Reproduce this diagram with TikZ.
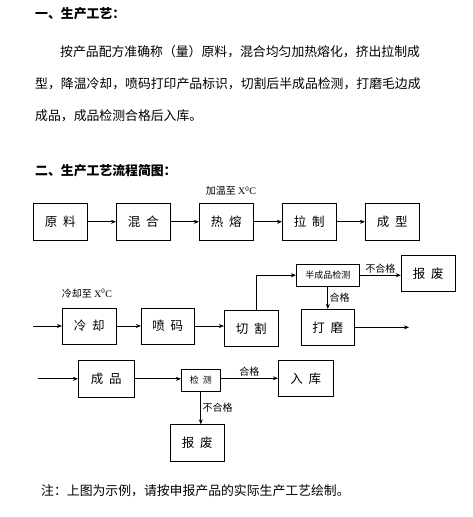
\documentclass[tikz,border=0pt]{standalone}
\usepackage{fontspec}
\newfontfamily\cjk{Noto Sans CJK SC}
\newfontfamily\timesf{Liberation Serif}
\usetikzlibrary{arrows.meta}

\begin{document}
\begin{tikzpicture}[x=1pt, y=-1pt, >={Stealth[length=5pt,width=4pt]},
    every node/.style={font=\cjk\fontsize{12.5}{15}\selectfont},
    box/.style={draw, line width=0.8pt, inner sep=0pt, minimum width=54pt, minimum height=37pt},
    smallbox/.style={draw, line width=0.8pt, inner sep=0pt, minimum height=22pt, font=\cjk\fontsize{9}{11}\selectfont},
    lbl/.style={font=\cjk\fontsize{10}{12}\selectfont, inner sep=1.5pt},
    txt/.style={anchor=west, inner sep=0pt, font=\cjk\fontsize{12.85}{15}\selectfont},
    flow/.style={->, line width=0.8pt}]
    \useasboundingbox (0,0) rectangle (473,517);

    % text above the chart
    \node[txt, font=\cjk\bfseries\fontsize{12.85}{15}\selectfont] (h1) at (35,14) {一、生产工艺：};
    \node[txt] (p1) at (60,52) {按产品配方准确称（量）原料，混合均匀加热熔化，挤出拉制成};
    \node[txt] (p2) at (35,84) {型，降温冷却，喷码打印产品标识，切割后半成品检测，打磨毛边成};
    \node[txt] (p3) at (35,116) {成品，成品检测合格后入库。};
    \node[txt, font=\cjk\bfseries\fontsize{12.85}{15}\selectfont] (h2) at (35,171) {二、生产工艺流程简图：};

    % first row
    \node[box] (yl) at (60.3,221.8) {原\hspace{0.45em}料};
    \node[box] (hh) at (143.3,221.8) {混\hspace{0.45em}合};
    \node[box] (rr) at (226.3,221.8) {热\hspace{0.45em}熔};
    \node[box] (lz) at (309.3,221.8) {拉\hspace{0.45em}制};
    \node[box] (cx) at (392.3,221.8) {成\hspace{0.45em}型};
    \node[lbl] (jw) at (231,191) {加温至 {\timesf X\textsuperscript{0}C}};

    \draw[flow] (yl) -- (hh);
    \draw[flow] (hh) -- (rr);
    \draw[flow] (rr) -- (lz);
    \draw[flow] (lz) -- (cx);

    % second row
    \node[box, minimum height=36pt] (lq) at (89.3,326) {冷\hspace{0.45em}却};
    \node[box, minimum width=53pt, minimum height=36pt] (pm) at (167.8,326) {喷\hspace{0.45em}码};
    \node[box, minimum height=36pt] (qg) at (251.3,328.3) {切\hspace{0.45em}割};
    \node[smallbox, minimum width=63pt] (bjc) at (327.8,275.2) {半成品检测};
    \node[box, minimum height=36pt] (bf1) at (428.2,273.3) {报\hspace{0.45em}废};
    \node[box, minimum width=53pt, minimum height=36pt] (dm) at (327.8,327.3) {打\hspace{0.45em}磨};
    \node[lbl] (lqz) at (87,293.3) {冷却至 {\timesf X\textsuperscript{0}C}};
    \coordinate (s2) at (33,326);
    \coordinate (e2) at (409,327.3);

    \draw[flow] (s2) -- (lq);
    \draw[flow] (lq) -- (pm);
    \draw[flow] (pm.east) -- (pm.east -| qg.west);
    \draw[flow] ([xshift=5pt]qg.north) |- (bjc.west);
    \draw[flow] (bjc.east) -- node[lbl, above] {不合格} (bjc.east -| bf1.west);
    \draw[flow] (bjc.south) -- node[lbl, right] {合格} (dm.north);
    \draw[flow] (dm) -- (e2);

    % third row
    \node[box, minimum width=56pt] (cp) at (106.3,378.8) {成\hspace{0.45em}品};
    \node[smallbox, minimum width=39pt] (jc) at (200.8,380.3) {检\hspace{0.45em}测};
    \node[box, minimum width=55pt, minimum height=36pt] (rk) at (305.8,378.3) {入\hspace{0.45em}库};
    \node[box, minimum height=36.6pt] (bf2) at (197.3,443) {报\hspace{0.45em}废};
    \coordinate (s3) at (37.7,378.8);

    \draw[flow] (s3) -- (cp);
    \draw[flow] (cp.east) -- (cp.east -| jc.west);
    \draw[flow] (rk.west -| jc.east) -- node[lbl, above] {合格} (rk.west);
    \draw[flow] (jc.south) -- node[lbl, right] {不合格} (jc.south |- bf2.north);

    % note
    \node[txt] (nt) at (41,490.7) {注：上图为示例，请按申报产品的实际生产工艺绘制。};
\end{tikzpicture}
\end{document}
